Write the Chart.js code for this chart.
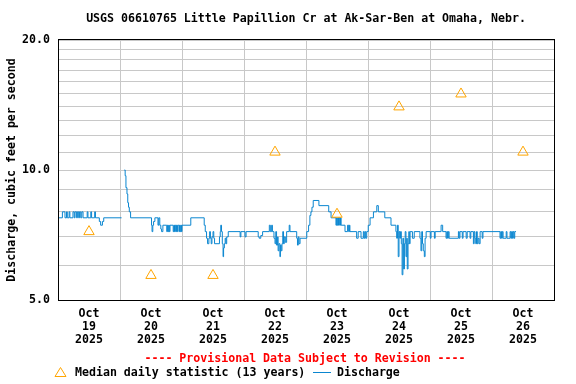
<!DOCTYPE html>
<html>
<head>
<meta charset="utf-8">
<script src="https://cdn.jsdelivr.net/npm/chart.js@4/dist/chart.umd.min.js"></script>
<style>
  html, body { margin: 0; padding: 0; background: #fff; }
  canvas { display: block; }
</style>
</head>
<body>
<canvas id="c" width="576" height="384"></canvas>
<script>
// ---- data ----
const chartTitle = 'USGS 06610765 Little Papillion Cr at Ak-Sar-Ben at Omaha, Nebr.';
const yAxisTitle = 'Discharge, cubic feet per second';
const provisionalNote = '---- Provisional Data Subject to Revision ----';
const medianLegend = 'Median daily statistic (13 years)';
const dischargeLegend = 'Discharge';

const monthLabel = 'Oct';
const yearLabel = '2025';
const dayLabels = ['19', '20', '21', '22', '23', '24', '25', '26'];   // one per day, hours 0..192
const yTickValues = [5, 6, 7, 8, 9, 10, 11, 12, 13, 14, 15, 16, 17, 18, 19, 20];
const yTickLabels = { 5: '5.0', 10: '10.0', 20: '20.0' };

// Median daily statistic (hours after Oct 19 00:00, cfs)
const medianHours = [12, 36, 60, 84, 108, 132, 156, 180];
const medianCfs   = [7.2, 5.7, 5.7, 11, 7.9, 14, 15, 11];

// Discharge readings [hours after Oct 19 00:00, cfs]; value holds until next reading
const dischargeReadings = [
  [0,7.75],[1.7,8.0],[2.7,7.75],[3.3,8.0],[3.6,7.75],[4.3,8.0],[4.6,7.75],[5.8,8.0],[6.3,7.75],[6.6,8.0],
  [7.2,7.75],[7.5,8.0],[8.0,7.75],[8.3,8.0],[8.8,7.75],[9.2,8.0],[9.7,7.75],[11.3,8.0],[11.6,7.75],[12.7,8.0],
  [13.0,7.75],[14.2,8.0],[14.5,7.75],[16.0,7.6],[16.5,7.45],[17.2,7.6],[17.7,7.75],[24.6,7.75],[25.0,null],
  [25.7,10.0],[26.0,9.7],[26.3,9.1],[26.7,8.8],[27.0,8.4],[27.3,8.2],[27.6,8.0],[28.1,7.75],[36.2,7.45],[36.4,7.2],
  [36.7,7.45],[37.0,7.6],[37.5,7.75],[38.7,7.45],[39.0,7.75],[39.4,7.45],[39.8,7.3],[40.1,7.2],[40.6,7.45],
  [42.1,7.2],[42.35,7.45],[42.6,7.2],[42.85,7.45],[43.1,7.2],[43.35,7.45],
  [44.6,7.2],[44.85,7.45],[45.1,7.2],[45.35,7.45],[45.6,7.2],[45.85,7.45],[46.1,7.2],[46.3,7.45],
  [46.8,7.2],[47.05,7.45],[47.3,7.2],[47.55,7.45],[47.8,7.2],[48.0,7.45],[51.4,7.75],
  [56.6,7.45],[57.0,7.2],[57.5,6.95],[57.9,6.75],[58.4,6.95],[58.7,7.2],[59.0,6.95],[59.3,6.75],[59.6,7.0],
  [60.0,7.2],[60.3,6.95],[60.6,6.75],[62.5,7.0],[62.8,7.2],[63.0,7.45],[63.3,7.2],[63.6,6.75],[63.9,6.3],
  [64.1,6.6],[64.4,6.75],[64.7,6.95],[65.0,6.75],[65.3,7.0],[65.9,7.2],[70.5,7.0],[70.8,7.2],[72.4,7.0],[72.8,7.2],
  [77.5,7.0],[77.9,6.95],[78.5,7.05],[79.2,7.2],[81.8,7.45],[82.2,7.2],[82.7,7.45],[83.0,7.2],[83.6,6.95],
  [84.0,6.75],[84.3,7.2],[84.6,6.7],[85.0,7.0],[85.2,6.5],[85.5,6.75],[85.9,6.3],[86.1,6.7],[86.4,6.5],
  [86.7,6.75],[87.0,7.2],[87.3,6.75],[87.6,7.0],[88.0,6.8],[88.5,7.2],[89.5,7.45],[89.8,7.2],[92.4,6.95],
  [92.7,6.7],[93.0,7.0],[93.3,6.75],[93.7,6.95],[96.3,7.2],
  [97.0,7.45],[97.5,7.85],[97.9,8.0],[98.3,8.2],[98.8,8.5],[101.0,8.27],[104.8,8.0],[105.7,7.75],
  [107.6,7.45],[107.85,7.75],[108.1,7.45],[108.35,7.75],[108.6,7.45],[108.85,7.75],[109.1,7.45],[109.35,7.75],
  [109.6,7.45],[111.1,7.2],[112.1,7.45],[112.5,7.2],[112.8,7.45],[113.0,7.2],[115.6,6.95],[116.2,7.2],
  [117.3,6.95],[118.2,7.2],[118.5,6.95],[118.8,7.2],[119.1,6.95],[119.5,7.2],
  [120.1,7.45],[120.8,7.75],[122.1,8.0],[123.4,8.27],[124.0,8.0],[126.5,7.75],[128.9,7.45],[130.8,7.2],
  [131.1,6.95],[131.4,7.45],[131.7,6.3],[132.0,7.2],[132.3,6.95],[132.6,7.2],[132.9,6.75],[133.2,5.72],
  [133.5,6.95],[133.8,5.9],[134.1,6.75],[134.4,7.2],[134.7,6.3],[135.0,6.95],[135.2,5.9],[135.5,6.75],
  [135.8,7.2],[136.0,6.75],[136.3,7.2],[137.2,6.95],[137.9,7.2],[140.1,6.95],[140.5,6.5],[140.8,7.2],
  [141.1,6.75],[141.4,6.5],[141.8,6.3],[142.1,6.95],[142.5,7.2],[144.1,6.95],[144.4,7.2],
  [145.7,6.95],[146.0,7.2],[148.3,7.45],[148.9,7.2],[150.2,6.95],[150.5,7.2],[150.8,6.95],[151.1,7.2],
  [151.4,6.95],[155.0,7.2],[155.3,6.95],[155.6,7.2],[156.5,6.95],[156.8,7.2],[158.0,6.95],[158.4,7.2],
  [159.5,6.95],[159.8,7.2],[160.8,6.75],[161.1,7.2],[161.4,6.95],[161.7,6.75],[162.0,7.2],[162.3,6.75],
  [162.6,6.95],[163.0,6.75],[163.4,7.2],[164.2,6.95],[164.5,7.2],
  [171.1,6.95],[171.4,7.2],[171.7,6.95],[172.0,7.2],[172.3,6.95],[173.5,7.2],[173.8,6.95],[175.0,7.2],
  [175.3,6.95],[175.6,7.2],[175.9,6.95],[176.2,7.2],[176.5,6.95],[176.8,7.2],[177.3,7.2]
];

// ---- styles ----
const FONT_FAMILY = '"DejaVu Sans Mono", "Liberation Mono", monospace';
const FONT_SIZE = 11.6;
const BLUE = '#0a86d0';
const ORANGE = '#ffa500';
const GRID = '#c8c8c8';

const textPlugin = {
  id: 'usgsText',
  afterDraw(chart) {
    const { ctx, chartArea: a } = chart;
    ctx.save();
    // frame
    ctx.strokeStyle = '#000';
    ctx.lineWidth = 1;
    ctx.strokeRect(Math.round(a.left) + 0.5, Math.round(a.top) - 0.5,
                   Math.round(a.right - a.left), Math.round(a.bottom - a.top) + 1);
    ctx.font = 'bold ' + FONT_SIZE + 'px ' + FONT_FAMILY;
    ctx.textBaseline = 'middle';
    // title
    ctx.fillStyle = '#000';
    ctx.textAlign = 'center';
    ctx.fillText(chartTitle, (a.left + a.right) / 2, 19);
    // provisional note
    ctx.fillStyle = '#ff0000';
    ctx.fillText(provisionalNote, 305, 359);
    // legend
    ctx.textAlign = 'left';
    ctx.fillStyle = '#000';
    ctx.fillText(medianLegend, 75, 373);
    ctx.fillText(dischargeLegend, 337, 373);
    // triangle marker
    ctx.strokeStyle = ORANGE;
    ctx.lineWidth = 1;
    ctx.beginPath();
    ctx.moveTo(60.5, 367.5);
    ctx.lineTo(66, 376.5);
    ctx.lineTo(55, 376.5);
    ctx.closePath();
    ctx.stroke();
    // line marker
    ctx.strokeStyle = BLUE;
    ctx.beginPath();
    ctx.moveTo(313, 372.5);
    ctx.lineTo(331, 372.5);
    ctx.stroke();
    ctx.restore();
  }
};

const tickFont = { family: FONT_FAMILY, size: FONT_SIZE, weight: 'bold' };

new Chart(document.getElementById('c'), {
  type: 'line',
  data: {
    datasets: [
      {
        label: dischargeLegend,
        data: dischargeReadings.map(r => ({ x: r[0], y: r[1] })),
        borderColor: BLUE,
        borderWidth: 1,
        pointRadius: 0,
        stepped: true,
        spanGaps: false,
        tension: 0,
        order: 2
      },
      {
        label: medianLegend,
        type: 'scatter',
        data: medianHours.map((h, i) => ({ x: h, y: medianCfs[i] })),
        pointStyle: 'triangle',
        pointRadius: 6,
        pointBorderWidth: 1,
        pointBorderColor: ORANGE,
        pointBackgroundColor: 'rgba(0,0,0,0)',
        borderColor: ORANGE,
        backgroundColor: 'rgba(0,0,0,0)',
        showLine: false,
        order: 1
      }
    ]
  },
  options: {
    responsive: false,
    animation: false,
    devicePixelRatio: 1,
    layout: { padding: { top: 40, right: 22, bottom: 0, left: 0 } },
    plugins: {
      legend: { display: false },
      title: { display: false },
      tooltip: { enabled: false }
    },
    scales: {
      x: {
        type: 'linear',
        min: 0,
        max: dayLabels.length * 24,
        border: { display: false },
        grid: {
          drawTicks: false,
          color: c => (c.tick && c.tick.value % 24 === 0) ? GRID : 'rgba(0,0,0,0)',
          lineWidth: 1
        },
        ticks: {
          stepSize: 12,
          autoSkip: false,
          maxRotation: 0,
          minRotation: 0,
          padding: 7.5,
          color: '#000',
          font: Object.assign({ lineHeight: '13px' }, tickFont),
          callback: v => (v % 24 === 12) ? [monthLabel, dayLabels[Math.floor(v / 24)], yearLabel] : ''
        },
        afterFit: s => { s.height = 84; }
      },
      y: {
        type: 'logarithmic',
        min: 5,
        max: 20,
        border: { display: false },
        grid: { drawTicks: false, color: GRID, lineWidth: 1 },
        afterBuildTicks: s => { s.ticks = yTickValues.map(v => ({ value: v })); },
        ticks: {
          autoSkip: false,
          padding: 8,
          color: '#000',
          font: tickFont,
          callback: v => yTickLabels[v] || ''
        },
        title: {
          display: true,
          text: yAxisTitle,
          color: '#000',
          font: tickFont,
          padding: { top: 5, bottom: 0 }
        },
        afterFit: s => { s.width = 58; }
      }
    }
  },
  plugins: [textPlugin]
});
</script>
</body>
</html>
